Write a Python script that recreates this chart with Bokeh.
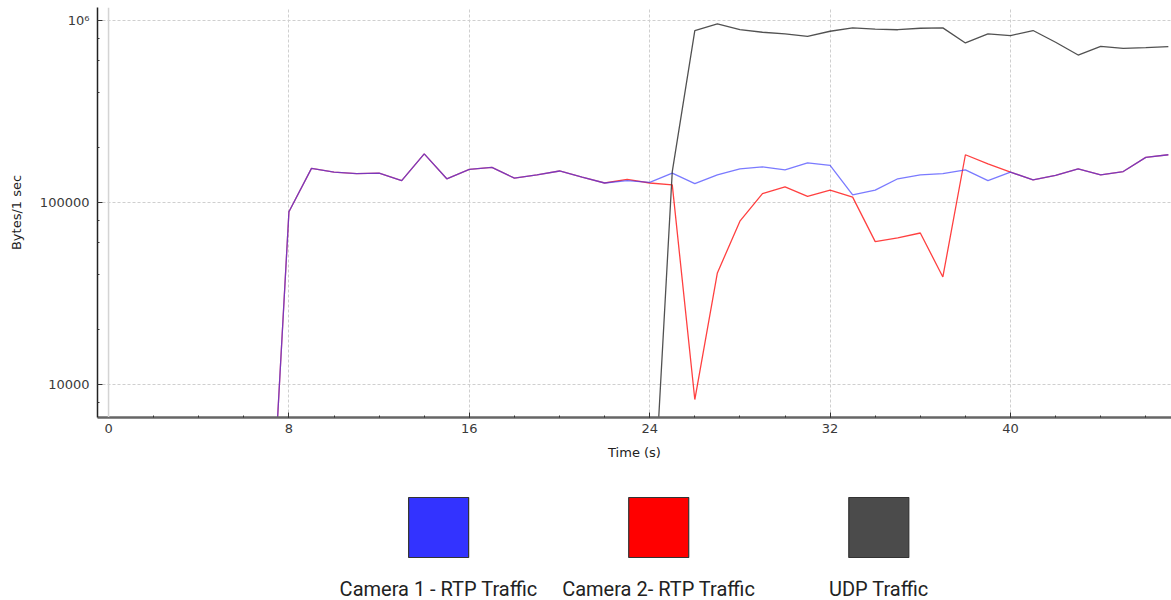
from bokeh.plotting import figure
from bokeh.models import (Range1d, FixedTicker, LogTicker, Span, ColumnDataSource)
from bokeh.layouts import column
from bokeh.embed import file_html
from bokeh.resources import INLINE
from bokeh.core.properties import value

# ---------------- data ----------------
time_cam = list(range(7, 48))
cam1_rtp = [500, 89000, 154000, 147000, 144000, 145000, 132000, 185000, 135000,
            152000, 156000, 136000, 142000, 149000, 138000, 128000, 132000,
            129000, 145000, 127000, 142000, 153000, 157000, 151000, 165000,
            160000, 110000, 117000, 135000, 142000, 144000, 151000, 132000,
            147000, 133000, 141000, 153000, 142000, 148000, 177000, 183000]
cam2_rtp = [500, 89000, 154000, 147000, 144000, 145000, 132000, 185000, 135000,
            152000, 156000, 136000, 142000, 149000, 138000, 128000, 134000,
            128000, 125000, 8270, 41000, 79000, 112000, 122000, 108000,
            117000, 107000, 61000, 64000, 68000, 39000, 183000, 163000,
            147000, 133000, 141000, 153000, 142000, 148000, 177000, 183000]
time_udp = list(range(24, 48))
udp = [830, 148000, 881000, 958000, 892000, 862000, 844000, 819000, 873000,
       911000, 896000, 890000, 907000, 911000, 753000, 844000, 826000, 881000,
       760000, 646000, 721000, 703000, 709000, 718000]

series_names = ["Camera 1 - RTP Traffic", "Camera 2- RTP Traffic", "UDP Traffic"]
series_colors = ["#3333ff", "#ff0000", "#4b4b4b"]
x_ticks = [0, 8, 16, 24, 32, 40]
x_minor = list(range(0, 48, 2))

FONT = "DejaVu Sans"
TXT = "#3a3a3a"
LEFT = 97

# ---------------- main chart ----------------
p = figure(width=1171, height=467, y_axis_type="log",
           x_range=Range1d(-0.49, 47.14), y_range=Range1d(6588, 1.179e6),
           output_backend="svg", toolbar_location=None,
           min_border_left=LEFT, min_border_right=0, min_border_top=7,
           min_border_bottom=50)
p.outline_line_color = None
p.background_fill_color = "white"

p.add_layout(Span(location=0, dimension="height", line_color="#d4d4d4",
                  line_width=1.5))

p.line(time_cam, cam2_rtp, line_color="#ff0000", line_width=1.3, line_alpha=0.75)
p.line(time_cam, cam1_rtp, line_color="#3333ff", line_width=1.3, line_alpha=0.65)
p.line(time_udp, udp, line_color="#333333", line_width=1.3, line_alpha=0.85)

p.xaxis.ticker = FixedTicker(ticks=x_ticks, minor_ticks=x_minor)
p.yaxis.ticker = LogTicker(desired_num_ticks=3)
p.yaxis.major_label_overrides = {1000000: "10⁶", 100000: "100000", 10000: "10000"}

p.xaxis.axis_label = "Time (s)"
p.yaxis.axis_label = "Bytes/1 sec"

for ax in (p.xaxis[0], p.yaxis[0]):
    ax.major_label_text_font = FONT
    ax.major_label_text_font_size = "13px"
    ax.major_label_text_color = TXT
    ax.axis_label_text_font = FONT
    ax.axis_label_text_font_size = "13px"
    ax.axis_label_text_font_style = "normal"
    ax.axis_label_text_color = "#222222"
    ax.major_tick_in = 5
    ax.major_tick_out = 0
    ax.minor_tick_in = 2
    ax.minor_tick_out = 0

p.xaxis.axis_line_color = "#666666"
p.xaxis.axis_line_width = 2.5
p.xaxis.major_tick_line_color = "#333333"
p.xaxis.minor_tick_line_color = "#333333"
p.xaxis.major_label_standoff = 6
p.xaxis.axis_label_standoff = 9

p.yaxis.axis_line_color = "#222222"
p.yaxis.axis_line_width = 1.5
p.yaxis.major_tick_line_color = "#333333"
p.yaxis.minor_tick_line_color = "#333333"
p.yaxis.major_label_standoff = 8
p.yaxis.axis_label_standoff = 13

p.xgrid.grid_line_color = "#cfcfcf"
p.xgrid.grid_line_dash = "3 2"
p.ygrid.grid_line_color = "#cfcfcf"
p.ygrid.grid_line_dash = "3 2"
p.ygrid.minor_grid_line_color = None

# ---------------- legend strip ----------------
slot = list(range(len(series_names)))
leg = figure(width=1171, height=133, x_range=Range1d(-1.55, 3.33),
             y_range=Range1d(0, 133), output_backend="svg",
             toolbar_location=None, min_border_left=LEFT, min_border_right=0,
             min_border_top=0, min_border_bottom=0)
leg.outline_line_color = None
leg.axis.visible = False
leg.grid.visible = False
src = ColumnDataSource(dict(slot=slot, name=series_names, color=series_colors))
leg.rect(x="slot", y=73, width=60, height=60, width_units="screen",
         height_units="screen", fill_color="color", line_color="#333333",
         line_width=1.2, source=src)
leg.text(x="slot", y=12, text="name", text_align="center",
         text_baseline="middle", text_font=value("Roboto"),
         text_font_size="20px", text_color="#222222", source=src)

layout = column(p, leg, spacing=0)
open("out.html", "w").write(file_html(layout, INLINE))
